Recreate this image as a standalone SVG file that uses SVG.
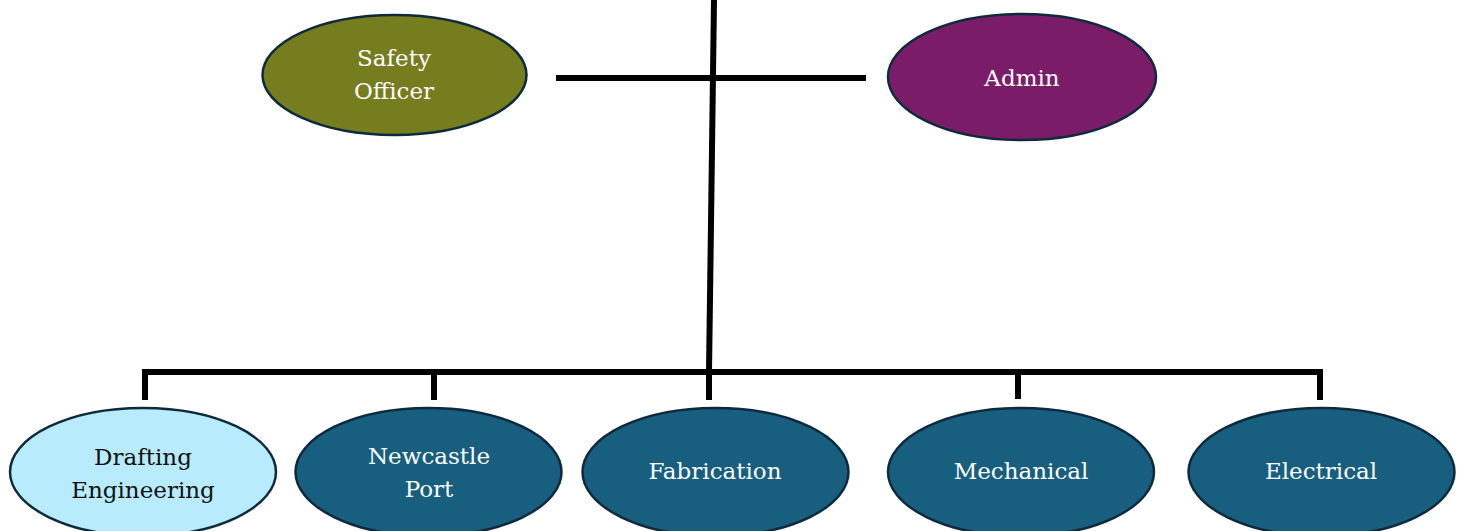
<svg xmlns="http://www.w3.org/2000/svg" width="1465" height="531" viewBox="0 0 1465 531">
<style>
.n{stroke:#0f2a3c;stroke-width:2.5}
.t{font-family:"DejaVu Serif","Liberation Serif",serif;font-size:23px;text-anchor:middle;fill:#ffffff}
.d{fill:#111111}
.c{stroke:#000;stroke-width:6;fill:none}
</style>
<rect width="1465" height="531" fill="#ffffff"/>
<g id="connectors">
<line class="c" x1="714" y1="0" x2="709" y2="372"/>
<line class="c" x1="556" y1="78" x2="866" y2="78"/>
<polyline class="c" points="145,400 145,372 1320,372 1320,400"/>
<line class="c" x1="434" y1="372" x2="434" y2="400"/>
<line class="c" x1="709" y1="372" x2="709" y2="400"/>
<line class="c" x1="1018" y1="372" x2="1018" y2="399"/>
</g>
<g id="safety">
<ellipse class="n" cx="394.5" cy="75" rx="132" ry="60" fill="#767d1f"/>
<text class="t" x="394" y="66">Safety</text>
<text class="t" x="394" y="99">Officer</text>
</g>
<g id="admin">
<ellipse class="n" cx="1022" cy="77" rx="134" ry="63" fill="#7b1c69"/>
<text class="t" x="1022" y="86">Admin</text>
</g>
<g id="drafting">
<ellipse class="n" cx="143" cy="472" rx="133" ry="64" fill="#b8ecfc"/>
<text class="t d" x="143" y="465">Drafting</text>
<text class="t d" x="143" y="498">Engineering</text>
</g>
<g id="newcastle">
<ellipse class="n" cx="428.5" cy="472" rx="133" ry="64" fill="#175e7f"/>
<text class="t" x="429" y="464">Newcastle</text>
<text class="t" x="429" y="497">Port</text>
</g>
<g id="fabrication">
<ellipse class="n" cx="715.5" cy="472" rx="133" ry="64" fill="#175e7f"/>
<text class="t" x="715" y="479">Fabrication</text>
</g>
<g id="mechanical">
<ellipse class="n" cx="1021" cy="472" rx="133" ry="64" fill="#175e7f"/>
<text class="t" x="1021" y="479">Mechanical</text>
</g>
<g id="electrical">
<ellipse class="n" cx="1321.5" cy="472" rx="133" ry="64" fill="#175e7f"/>
<text class="t" x="1321" y="479">Electrical</text>
</g>
</svg>
